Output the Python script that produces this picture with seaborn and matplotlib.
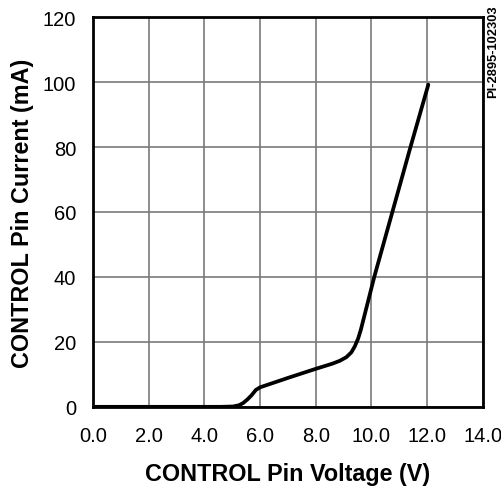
import matplotlib
matplotlib.use("Agg")
import matplotlib.pyplot as plt
import seaborn as sns
import pandas as pd

voltage = [0.0, 4.6, 5.03, 5.25, 5.4, 5.55, 5.69, 5.85, 6.0, 7.0, 8.0, 8.6, 8.87, 9.1, 9.28, 9.4, 9.52, 9.62, 10.1, 10.75, 11.4, 12.04]
current = [0.0, 0.0, 0.1, 0.5, 1.2, 2.3, 3.5, 5.2, 6.0, 8.9, 11.7, 13.3, 14.2, 15.3, 16.8, 18.6, 21.0, 23.8, 40.0, 60.0, 80.0, 99.2]
x_ticks = [0, 2, 4, 6, 8, 10, 12, 14]
x_labels = ["0.0", "2.0", "4.0", "6.0", "8.0", "10.0", "12.0", "14.0"]
y_ticks = [0, 20, 40, 60, 80, 100, 120]
y_labels = ["0", "20", "40", "60", "80", "100", "120"]

sns.set_theme(style="white")
plt.rcParams['font.family'] = ['Liberation Sans', 'DejaVu Sans']

df = pd.DataFrame({"V": voltage, "I": current})
fig = plt.figure(figsize=(5.02, 4.89), dpi=100)
ax = fig.add_axes([0.185, 0.166, 0.777, 0.797])
sns.lineplot(data=df, x="V", y="I", ax=ax, color="black", linewidth=2.7, sort=False)
ax.set_xlim(0, 14)
ax.set_ylim(0, 120)
ax.set_xticks(x_ticks)
ax.set_xticklabels(x_labels)
ax.set_yticks(y_ticks)
ax.set_yticklabels(y_labels)
ax.grid(True, color="#7a7a7a", linewidth=1.2)
ax.tick_params(axis="x", length=0, labelsize=14.5, labelcolor="black", pad=14)
ax.tick_params(axis="y", length=0, labelsize=14.5, labelcolor="black", pad=12)
for s in ax.spines.values():
    s.set_color("black")
    s.set_linewidth(2.0)
ax.set_xlabel("CONTROL Pin Voltage (V)", fontsize=16.8, fontweight="bold", labelpad=12, color="black")
ax.set_ylabel("CONTROL Pin Current (mA)", fontsize=16.8, fontweight="bold", labelpad=6, color="black")
fig.text(0.982, 0.99, "PI-2895-102303", rotation=90, fontsize=9.3, fontweight="bold", ha="center", va="top", color="black")
fig.savefig("out.png", dpi=100)
